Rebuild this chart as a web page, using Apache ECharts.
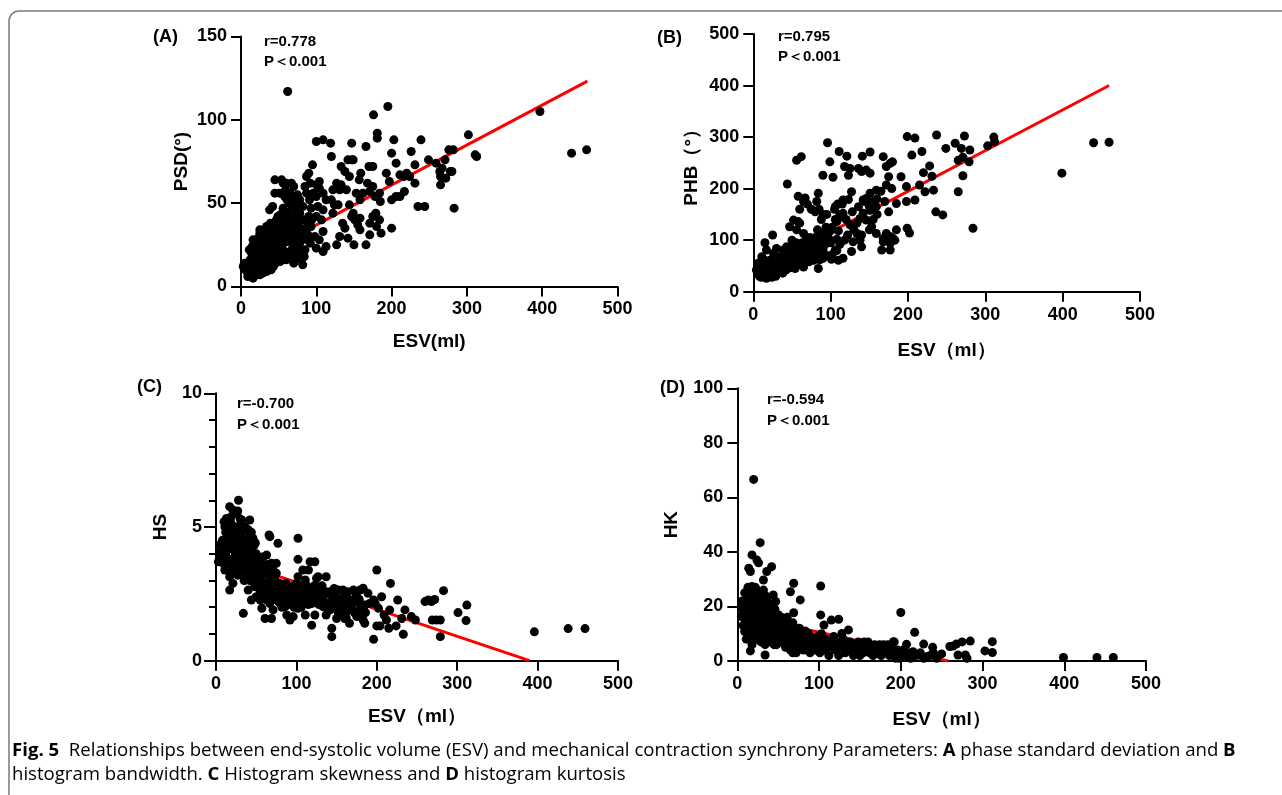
<!DOCTYPE html>
<html><head><meta charset="utf-8">
<script src="https://cdn.jsdelivr.net/npm/echarts@6/dist/echarts.min.js"></script>
<style>html,body{margin:0;padding:0;background:#fff}#c{width:1282px;height:795px}</style>
</head><body><div id="c"></div>
<script>
// ---------- DATA ----------
const psdPoints = [
[62,117],[195,108],[176,103],[397,105],[439,80],[459,82],[302,91],[311,79],[313,78],[283,47],[239,88],[203,88],[181,92],[181,89],[166,84],[147,86],[100,87],[109,88],[119,86],[120,78],[95,73],[90,68],[200,80],[206,74],[226,81],[231,73],[249,76],[259,74],[264,69],[265,66],[267,71],[271,76],[276,82],[282,82],[278,69],[272,65],[265,61],[280,69],
[211,67],[216,66],[224,66],[220,68],[217,57],[211,54],[206,54],[200,52],[200,35],[235,48],[244,48],[231,62],
[193,68],[197,63],[184,56],[178,54],[185,51],
[170,72],[175,72],[168,62],[175,60],[171,57],[179,44],[184,40],[186,32],[180,36],[171,31],[166,25],[171,38],[175,42],
[159,68],[157,64],[153,56],[158,52],[162,56],[149,44],[151,40],[150,25],[158,34],[144,49],[147,42],[140,58],[158,41],[155,37],
[133,72],[138,69],[144,66],[142,76],[147,76],[149,76],
[131,58],[133,61],[127,62],[122,58],[120,52],[124,49],[129,49],[122,44],[135,38],[138,35],[131,30],[127,25],[142,29],
[104,59],[109,56],[113,52],[102,48],[109,46],[100,42],[107,40],[109,33],[98,30],[104,28],[100,23],[109,21],[113,24],[93,47],[100,54],[96,56],[104,63],[100,61],
[87,56],[91,52],[82,48],[78,44],[87,40],[93,36],[89,31],[82,29],[78,26],[85,22],[76,20],[82,13],[80,16],[87,66],[85,60],[92,62],
[51,56],[56,62],[45,56],[42,48],[38,46],[49,42],[60,40],[56,36],[65,32],[69,28],[67,22],[73,18],[60,16],[69,20],[53,31],[47,32],[62,42],[67,46],[73,43],[71,40],
[54,64],[60,62],[67,62],[45,64],[58,54],
[25,32],[20,28],[16,28],[25,34],[34,36],[38,32],[34,28],[43,26],[47,22],[51,20],[38,18],[29,16],[25,20],[20,22],[14,20],[12,16],[7,13],[5,11],[16,11],[25,11],[34,12],[43,12],[12,8],[20,7],[29,8],[9,6],[16,5],[25,7],[34,9],[5,14],[3,12],[18,16],[29,18],[41,22],[47,18],[56,17],
[10,10],[14,12],[18,9],[22,12],[27,14],[31,10],[36,14],[40,17],[44,15],[23,25],[30,24],[36,22],[8,9],[12,14],[18,13],[21,18],[26,17],[32,20],[48,28],[55,25],[58,29],[62,27],[66,35],[70,33],[74,37],[63,38],[50,37],[57,45],[64,50],[70,52],[75,55],[59,58],
[15,24],[19,26],[23,29],[27,27],[31,30],[35,33],[39,38],[43,36],[47,40],[52,43],[56,47],[61,52],[65,56],[70,60],[74,48],[78,52],[82,40],[86,35],[90,42],[94,40],[28,22],[33,25],[37,27],[41,30],[45,35],[49,33],[53,38],[58,33],[62,30],[66,27],[71,25],[75,30],[79,35],[83,33],[88,28],[92,26],[40,10],[46,14],[52,15],[58,21],[64,18],[70,14],[76,23],[84,18],[27,10],[22,15],[17,18],[13,10],[8,14],[6,10],[11,22],[30,13],[35,18],[42,19],[52,27],[57,33],[61,35],[68,38],[72,45],[77,40]
];
const phbPoints = [
[96,289],[56,255],[62,262],[44,209],[25,110],[15,95],
[99,252],[103,222],[90,226],[84,191],[82,175],
[111,272],[121,263],[118,243],[125,239],[123,226],[127,194],[116,178],[123,179],[109,170],[106,165],[116,152],[108,136],[128,155],
[141,263],[151,271],[136,239],[140,233],[146,236],[151,230],
[168,262],[177,249],[172,243],[175,223],[180,252],[172,207],[179,200],
[159,197],[151,191],[146,181],[142,178],[144,175],[155,175],[159,165],[151,158],[142,152],[146,139],[153,126],[159,113],[168,103],[172,113],[177,107],[181,103],[185,120],[183,100],[177,94],[166,81],[177,81],[168,97],[136,165],[138,142],[134,133],[134,113],[138,100],[140,87],[127,78],[129,97],
[199,301],[209,298],[237,304],[261,288],[273,302],[269,278],[249,278],[218,272],[205,265],[228,244],[220,231],[231,224],[215,207],[222,194],[233,197],[209,178],[198,204],[198,175],[191,223],[185,171],
[236,155],[245,149],[199,123],[202,114],[284,123],
[265,194],[271,225],[265,255],[271,261],[279,252],[280,275],
[303,283],[311,300],[312,291],[399,230],[440,289],[460,290],
[116,65],[110,61],[101,63],[106,81],[99,100],[108,102],
[95,113],[90,97],[88,113],[82,103],[75,87],[82,74],[78,61],[84,45],
[65,113],[69,100],[60,133],[58,136],[52,139],[47,126],[56,120],[50,100],[43,87],[39,81],[30,84],[34,68],[45,61],[54,55],[65,48],[69,68],[73,81],[62,81],
[4,42],[9,36],[13,29],[17,26],[22,36],[26,32],[30,42],[34,48],[19,48],[15,61],[22,61],[26,74],[17,81],[11,68],[6,55],
[8,30],[12,33],[16,38],[20,30],[24,28],[28,35],[32,38],[36,42],[40,45],[44,50],[48,55],[52,60],[56,65],[60,70],[64,75],[68,62],[72,58],[76,70],[80,66],[14,45],[18,52],[22,44],[26,50],[30,56],[34,62],[38,70],[42,75],[46,80],[50,90],[55,95],[60,88],[65,92],[70,88],[75,95],[80,105],[85,90],[90,80],[95,70],[100,95],[100,118],[106,140],[112,150],[95,150],[85,160],[90,150],[60,160],[65,175],[58,185],[67,182],[75,160],[70,170],[80,155],[88,140],[105,160],[115,170],[112,145],[120,140],[125,130],[130,120],[140,110],[150,120],[155,140],[160,150],[150,165],[160,180],[165,195],[170,175],[175,155],
[6,35],[10,40],[12,50],[15,35],[18,42],[20,55],[23,38],[25,45],[27,58],[29,40],[31,50],[33,55],[35,45],[37,58],[39,52],[41,65],[43,58],[45,70],[47,52],[49,66],[51,75],[53,68],[55,80],[57,72],[59,85],[61,60],[63,95],[66,85],[68,78],[71,95],[73,105],[76,82],[78,92],[81,85],[83,120],[86,72],[88,100],[92,90],[94,125],[97,105],[10,28],[14,30],[19,33],[24,35],[29,30],[34,40],[38,36],[42,42],[46,46],[50,50],[54,45],[58,52],[62,56],[66,60],[70,65],[74,62],[78,75],[82,80],[86,62],[90,65],[102,72],[108,80],[112,92],[118,100],[122,110],[102,125],[110,118]
];
const hsPoints = [
[28,6.0],[17,5.76],[21,5.64],[26,5.51],[19,5.39],[13,5.32],[15,5.01],[11,5.01],[9,4.26],[5,4.33],[7,3.70],[3,3.70],[11,3.39],[17,3.14],[17,2.64],[21,2.89],[26,3.39],[30,3.64],[34,3.89],[38,4.51],[42,5.26],[36,5.01],[30,4.64],[26,4.39],[24,5.01],[32,5.26],[34,4.83],[42,4.64],[46,4.58],[44,4.14],[38,3.89],[40,3.39],[36,3.02],[40,2.64],[44,2.27],[50,2.39],[48,2.77],[50,3.14],[55,3.39],[57,3.64],[59,3.89],[63,3.95],[65,3.39],[67,3.14],[69,3.64],[71,3.39],[75,3.27],[77,2.89],[75,3.64],[67,4.64],[77,4.39],[66,4.70],[57,1.96],[61,1.58],[69,1.58],[34,1.77],[55,2.27],[59,2.77],[63,2.27],[67,2.14],[71,1.90],[80,2.14],[86,2.02],[88,1.71],[92,1.52],[96,1.65],[102,1.96],[100,2.14],[104,2.27],[102,2.64],[100,2.89],[102,3.14],[94,2.77],[88,2.52],[82,2.39],[108,2.27],[111,1.71],[115,3.39],[111,3.02],[117,3.70],[123,3.70],[125,3.08],[127,2.77],[125,2.58],[119,2.27],[119,1.33],[123,1.71],[119,2.14],[102,4.58],[102,3.79],[108,3.39],
[127,3.14],[137,3.14],[131,2.58],[137,2.58],[142,2.58],[146,2.39],[152,2.64],[158,2.64],[164,2.58],[171,2.64],[179,2.64],[175,2.39],[183,2.71],[189,2.52],[185,2.08],[191,2.14],[179,2.14],[171,2.27],[162,2.27],[154,2.27],[146,2.14],[142,1.90],[137,1.71],[133,2.02],[144,1.21],[144,0.90],[150,1.58],[156,1.71],[162,1.83],[166,1.40],[160,1.58],[171,1.90],[175,1.65],[179,1.71],[183,1.52],[185,1.40],[166,2.14],[154,2.02],[158,2.14],
[200,3.39],[196,2.27],[198,2.14],[202,1.96],[206,2.39],[217,2.89],[216,1.90],[209,1.71],[212,1.52],[200,1.30],[204,1.30],[196,0.80],[215,1.21],[224,1.30],[226,2.27],[235,1.90],[231,1.58],[233,0.99],[243,1.65],[248,1.52],[260,2.21],[264,2.27],[268,2.21],[272,2.29],[269,1.52],[274,1.52],[279,1.52],[279,0.90],[283,2.62],[301,1.80],[312,2.08],[311,1.50],[396,1.08],[438,1.20],[459,1.20],
[5,3.9],[8,4.5],[10,3.6],[12,4.0],[14,4.6],[16,3.8],[18,4.2],[20,4.9],[22,3.5],[24,4.0],[26,3.7],[28,4.4],[30,3.9],[32,4.1],[34,3.4],[36,3.7],[38,3.2],[40,3.5],[42,3.0],[45,3.3],[48,2.9],[50,3.6],[52,3.1],[55,2.6],[58,3.2],[60,2.9],[62,2.5],[65,2.8],[68,2.4],[70,3.0],[72,2.7],[74,2.3],[76,2.6],[78,2.2],[80,2.5],[82,2.0],[84,2.8],[86,2.3],[88,2.1],[90,2.6],[92,2.3],[95,2.5],[97,2.0],[99,2.4],[104,2.5],[106,2.0],[112,2.4],[115,2.1],[120,2.5],[124,2.3],[130,2.4],[135,2.2],[140,2.5],[148,2.0],[152,1.8],[158,2.0],[162,1.6],[168,2.0],[172,1.8],[176,2.2],[180,1.9],[186,1.8],[10,5.2],[12,4.8],[18,5.2],[22,5.0],[24,4.6],[27,5.6],[30,5.3],[32,4.8],[40,4.9],[44,4.8],[47,4.3],[50,4.0],
[6,4.1],[9,3.8],[13,4.4],[15,3.6],[17,4.7],[19,3.3],[21,4.3],[23,3.8],[25,4.8],[27,3.2],[29,4.2],[31,3.5],[33,4.5],[35,3.0],[37,4.2],[39,3.6],[41,4.0],[43,3.3],[45,3.9],[47,3.5],[49,3.1],[51,3.8],[53,3.4],[54,2.9],[56,3.6],[58,2.5],[61,3.4],[63,2.9],[64,3.6],[66,2.6],[69,2.9],[71,2.5],[73,3.1],[75,2.8],[77,2.4],[79,2.9],[81,2.7],[83,2.4],[85,2.6],[87,2.9],[89,2.4],[91,2.1],[93,2.7],[96,2.2],[98,2.8],[101,2.3],[105,2.8],[107,2.6],[110,2.5],[113,2.8],[116,2.3],[118,2.6],[122,2.8],[126,2.4],[128,2.1],[132,2.8],[134,2.5],[138,2.0],[143,2.2],[147,2.7],[150,2.4],[155,2.2],[160,2.4],[165,2.3],[170,2.2],[174,2.5],[178,2.3],[182,2.0],[15,4.2],[20,4.4],[25,4.1],[29,5.0],[33,3.7],[36,4.4],[39,4.1],[43,4.4],[46,3.7],[49,4.4],[52,3.6],[56,3.3]
];
const hkPoints = [
[20,66.6],[28,43.4],[18,38.9],[24,37],[26,36],[14,34],[16,32.8],[36,32.8],[42,34.6],[32,29.7],
[69,28.5],[65,25.4],[77,22.4],[44,24.2],[47,21.8],[69,17.7],[102,27.5],[102,16.9],[115,15],[124,15.3],[106,13.2],[136,11.4],[128,10.1],[200,17.8],[217,10.5],[207,6.1],[228,6.2],[239,5],[250,2.6],[260,5.3],[264,5.5],[268,6.2],[275,7],[285,7.3],[270,2.2],[279,2.2],[281,1],[303,3.7],[312,7.1],[312,3.1],[399,1.3],[440,1.3],[460,1.3],[34,2.2],[16,3.7],[232,1.6],[222,2.2],[215,3.4],[199,1],[196,2.8],[191,7.1],
[5,19.7],[5,16.3],[9,10.8],[14,21.1],[16,24.8],[18,27.3],[24,26],[28,23.6],[32,26],[36,22.4],[40,19.9],
[8,18],[10,14],[12,23],[12,12],[14,26],[15,17],[16,20],[17,9],[18,24],[19,14],[20,21],[21,11],[22,27],[22,17],[23,8],[24,23],[25,13],[26,19],[27,10],[28,25],[28,15],[29,7],[30,21],[31,12],[32,17],[33,9],[34,24],[35,14],[36,19],[37,11],[38,16],[39,8],[40,21],[41,13],[42,17],[43,10],[44,15],[45,6],[46,19],[47,12],[48,14],[49,9],[50,17],[51,11],[52,13],[53,7],[54,16],[55,9],[56,12],[58,14],[59,5],[60,10],[61,16],[62,8],[64,12],[65,4],[66,9],[68,14],[68,3],[70,11],[71,7],[72,3],[74,9],[76,12],[77,5],[78,8],[80,10],[81,4],[82,6],[84,9],[86,5],[88,7],[89,3],[90,9],[92,6],[94,4],[96,8],[98,5],[100,7],[101,3],[103,10],[104,6],[106,4],[108,8],[110,5],[112,2],[114,7],[116,5],[118,9],[120,4],[122,6],[124,2],[126,7],[128,5],[130,8],[132,3],[134,6],[136,4],[138,7],[140,5],[142,2],[144,6],[146,4],[148,7],[150,2],[152,5],[154,3],[156,6],[158,4],[160,7],[162,3],[164,5],[166,2],[168,6],[170,4],[172,3],[174,6],[176,2],[178,5],[180,3],[182,4],[184,6],[186,2],[188,5],[190,3],[192,7],[194,1],[196,4],[203,4],[206,2],[210,3],[212,1],[218,2],[224,3],[228,1],[236,2],[240,3],[244,1],
[6,22],[7,13],[9,25],[10,19],[11,8],[13,16],[13,27],[15,12],[16,23],[17,19],[18,6],[19,17],[20,25],[21,15],[22,21],[23,13],[24,18],[25,9],[26,22],[27,16],[28,12],[29,20],[30,9],[31,17],[32,13],[33,21],[34,6],[35,18],[36,13],[37,16],[38,11],[39,19],[40,15],[41,7],[42,12],[43,18],[44,11],[45,14],[46,9],[47,16],[48,6],[49,12],[50,8],[52,15],[53,11],[55,13],[56,7],[57,15],[58,10],[60,12],[62,14],[63,6],[65,11],[67,7],[69,12],[70,5],[73,10],[75,6],[79,7],[83,11],[85,7],[87,10],[91,7],[95,6],[99,9],[105,8],[111,6],[117,7],[123,5],[131,6],[139,4],[147,5],[155,7],[163,4],[171,5],[179,6],[187,4]
];
const psdFit = [[5,14.2],[460,123.2]];
const phbFit = [[5,41],[460,400]];
const hsFit = [[5,3.89],[390,0]];
const hkFit = [[5,16.9],[258,0]];
const panelLabels = ['(A)','(B)','(C)','(D)'];
const yNames = ['PSD(°)','PHB（°）','HS','HK'];
const xNames = ['ESV(ml)','ESV（ml）','ESV（ml）','ESV（ml）'];
const rTexts = ['r=0.778','r=0.795','r=-0.700','r=-0.594'];
const pText = 'P＜0.001';
const xMax = 500, xStep = 100;
const yMax = [150,500,10,100];
const yStep = [50,100,5,20];

// ---------- LAYOUT ----------
const FONT = '"Liberation Sans", Arial, sans-serif';
const grids = [
  {left:241, top:36.5, width:376.5, height:250},
  {left:753.3, top:34, width:386.7, height:257.7},
  {left:216, top:393.3, width:402, height:267.4},
  {left:737.3, top:388.3, width:408.7, height:272.7}
];
const xNameGap = [46, 50, 47, 49];
const yNameGap = [50, 52, 46, 56];
const axisLine = {lineStyle:{color:'#000', width:2}};
const lbl = {color:'#000', fontSize:18, fontWeight:'bold', fontFamily:FONT};
const nameStyle = {color:'#000', fontSize:19, fontWeight:'bold', fontFamily:FONT};

const xAxes = grids.map((g,i)=>({
  gridIndex:i, type:'value', min:0, max:xMax, interval:xStep,
  axisLine, axisTick:{show:true, length:10, lineStyle:{color:'#000', width:2}},
  axisLabel:Object.assign({margin:14}, lbl), splitLine:{show:false},
  name:xNames[i], nameLocation:'middle', nameGap:xNameGap[i], nameTextStyle:nameStyle
}));
const yAxes = grids.map((g,i)=>({
  gridIndex:i, type:'value', min:0, max:yMax[i], interval:yStep[i],
  axisLine:{show:true, lineStyle:{color:'#000', width:2}},
  axisTick:{show:true, length:i===2?12:10, lineStyle:{color:'#000', width:2}},
  minorTick: i===2 ? {show:true, splitNumber:5, length:7, lineStyle:{color:'#000', width:2}} : {show:false},
  axisLabel:Object.assign({margin:14}, lbl), splitLine:{show:false},
  name:yNames[i], nameLocation:'middle', nameGap:yNameGap[i], nameTextStyle:nameStyle
}));
const pts = [psdPoints, phbPoints, hsPoints, hkPoints];
const fits = [psdFit, phbFit, hsFit, hkFit];
const series = [];
pts.forEach((d,i)=>{
  series.push({type:'line', xAxisIndex:i, yAxisIndex:i, data:fits[i], symbol:'none', z:2,
    lineStyle:{color:'#ff0000', width:3}, silent:true, animation:false});
  series.push({type:'scatter', xAxisIndex:i, yAxisIndex:i, data:d, symbol:'circle', symbolSize:9, z:3,
    itemStyle:{color:'#000', opacity:1}, animation:false});
});

const labelPos = [[153,37],[657,38],[137,387],[660,388]];
const rPos = [[264,42],[778,37],[237,404],[767,400]];
const pPos = [[264,62],[778,57],[237,425],[767,421]];
const graphic = [
  {type:'rect', shape:{x:9, y:11, width:1300, height:820, r:10}, style:{fill:'none', stroke:'#7a7a7a', lineWidth:1.5}, z:-1, silent:true}
];
for (let i=0;i<4;i++){
  graphic.push({type:'text', x:labelPos[i][0], y:labelPos[i][1], style:{text:panelLabels[i], fill:'#000', font:'bold 18px '+FONT, textAlign:'left', textVerticalAlign:'middle', align:'left', verticalAlign:'middle'}});
  graphic.push({type:'text', x:rPos[i][0], y:rPos[i][1], style:{text:rTexts[i], fill:'#000', font:'bold 15px '+FONT, textAlign:'left', textVerticalAlign:'middle', align:'left', verticalAlign:'middle'}});
  graphic.push({type:'text', x:pPos[i][0], y:pPos[i][1], style:{text:pText, fill:'#000', font:'bold 15px '+FONT, textAlign:'left', textVerticalAlign:'middle', align:'left', verticalAlign:'middle'}});
}
const capFont = '"Open Sans", "Noto Sans", sans-serif';
const capRich = {
  n:{fontFamily:capFont, fontSize:18.6, color:'#333'},
  b:{fontFamily:capFont, fontSize:18.6, fontWeight:'bold', color:'#000'}
};
graphic.push({type:'text', x:12, y:751, style:{
  text:'{b|Fig. 5}{n|  Relationships between end-systolic volume (ESV) and mechanical contraction synchrony Parameters: }{b|A}{n| phase standard deviation and }{b|B}',
  rich:capRich, textAlign:'left', textVerticalAlign:'middle', align:'left', verticalAlign:'middle'}});
graphic.push({type:'text', x:12, y:775, style:{
  text:'{n|histogram bandwidth. }{b|C}{n| Histogram skewness and }{b|D}{n| histogram kurtosis}',
  rich:capRich, textAlign:'left', textVerticalAlign:'middle', align:'left', verticalAlign:'middle'}});

const chart = echarts.init(document.getElementById('c'), null, {renderer:'canvas'});
chart.setOption({
  animation:false, backgroundColor:'#fff',
  grid:grids, xAxis:xAxes, yAxis:yAxes, series, graphic
});
</script></body></html>
